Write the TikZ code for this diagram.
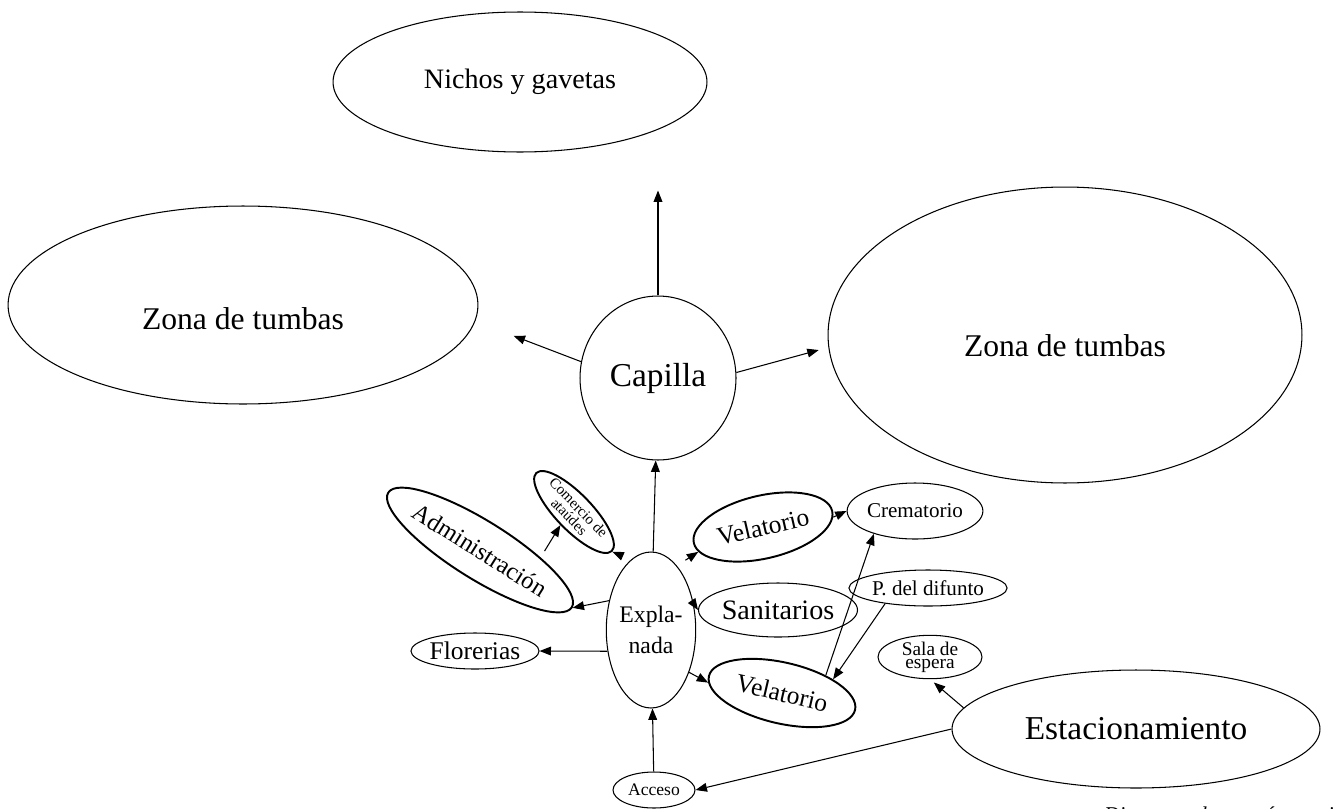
\documentclass[tikz,border=0pt]{standalone}
\usepackage{fontspec}
\setmainfont{Liberation Serif}
\usepackage{tikz}
\usetikzlibrary{shapes.geometric, arrows.meta}

\begin{document}
\begin{tikzpicture}[
            x=0.02cm, y=-0.02cm,
            area/.style={
                draw, ellipse, line width=0.6pt, inner sep=0pt, align=center
            },
            heavy/.style={line width=1.1pt},
            flow/.style={-{Triangle[length=6.5pt, width=5pt]}, line width=0.6pt},
            note/.style={font=\fontsize{12}{14}\selectfont\itshape}
        ]
            \useasboundingbox (0,0) rectangle (1344,808);
            \clip (0,0) rectangle (1344,808);

            % Upper zones
            \node[area, minimum width=7.48cm, minimum height=2.8cm,
                font=\fontsize{16}{18}\selectfont] (nich) at (520,82) {Nichos y gavetas};
            \node[area, minimum width=9.4cm, minimum height=3.96cm, text height=28pt, text depth=0pt,
                font=\fontsize{18}{20}\selectfont] (zl) at (243,305) {Zona de tumbas};
            \node[area, minimum width=9.48cm, minimum height=5.92cm, text height=24pt, text depth=0pt,
                font=\fontsize{18}{20}\selectfont] (zr) at (1065,335) {Zona de tumbas};
            \node[area, minimum width=3.12cm, minimum height=3.28cm,
                font=\fontsize{19}{21}\selectfont] (cap) at (658,378) {Capilla};

            % Central hub
            \node[area, minimum width=1.44cm, minimum height=3.12cm,
                font=\fontsize{13.5}{17.6}\selectfont] (expl) at (651,630) {Expla-\\nada};

            % Left side services
            \node[area, heavy, rotate=-46, minimum width=1.6cm, minimum height=0.72cm,
                font=\fontsize{8.5}{7.5}\selectfont] (com) at (574,512) {Comercio de\\ataúdes};
            \node[area, heavy, rotate=-32, minimum width=3.56cm, minimum height=1.16cm,
                font=\fontsize{14}{16}\selectfont] (adm) at (480,550) {Administración};
            \node[area, minimum width=2.48cm, minimum height=0.72cm,
                font=\fontsize{14.5}{16}\selectfont] (flo) at (475,651) {Florerias};
            \node[area, minimum width=1.64cm, minimum height=0.72cm,
                font=\fontsize{10}{12}\selectfont] (acc) at (654,790) {Acceso};

            % Right side services
            \node[area, heavy, rotate=13, minimum width=2.84cm, minimum height=1.26cm,
                font=\fontsize{14.5}{16}\selectfont] (vel1) at (763,527) {Velatorio};
            \node[area, minimum width=2.6cm, minimum height=1.08cm,
                font=\fontsize{16}{18}\selectfont] (san) at (778,610) {Sanitarios};
            \node[area, heavy, rotate=-13, minimum width=3.0cm, minimum height=1.22cm,
                font=\fontsize{14.5}{16}\selectfont] (vel2) at (782,693) {Velatorio};
            \node[area, minimum width=2.08cm, minimum height=1.12cm,
                font=\fontsize{12}{14}\selectfont] (crem) at (915,511) {Crematorio};
            \node[area, minimum width=2.0cm, minimum height=0.72cm,
                font=\fontsize{12}{14}\selectfont] (pdd) at (928,588) {P. del difunto};
            \node[area, minimum width=2.08cm, minimum height=0.72cm,
                font=\fontsize{11}{7.5}\selectfont] (sala) at (930,657) {Sala de\\espera};
            \node[area, minimum width=7.36cm, minimum height=2.36cm,
                font=\fontsize{19}{21}\selectfont] (est) at (1136,729) {Estacionamiento};

            % Source note, cut by the page edge
            \node[note, anchor=base west] (src) at (1098,821) {Diagrama de autoría propia};

            % Capilla to the zones
            \draw[flow, shorten >=0.76cm] (cap) -- (cap |- nich.south);
            \draw[flow, shorten >=0.82cm] (cap.168) -- (zl.-4);
            \draw[flow, shorten >=0.2cm] (cap.4) -- (zr.183);

            % Explanada connections
            \draw[flow] (expl) -- (cap);
            \draw[flow, shorten <=0.18cm] (expl.106) -- (com.east);
            \draw[flow, shorten <=0.15cm] (adm.25) -- (com.south);
            \draw[flow] (expl.145) -- (adm.east);
            \draw[flow] (expl.206) -- (flo.east);
            \draw[flow] (acc) -- (expl);
            \draw[flow, shorten <=0.2cm] (expl.68) -- (vel1.188);
            \draw[flow] (expl.32) -- (san.west);
            \draw[flow] (expl.-48) -- (vel2.185);

            % Velatorios and crematorio
            \draw[flow] (vel1.-5) -- (crem.west);
            \draw[flow] (vel2.35) -- (crem.209);
            \draw[flow] (pdd.200) -- (vel2.28);

            % Estacionamiento
            \draw[flow] (est.west) -- (acc.east);
            \draw[flow, shorten >=0.1cm] (est.173) -- (sala.south);
        \end{tikzpicture}
\end{document}
